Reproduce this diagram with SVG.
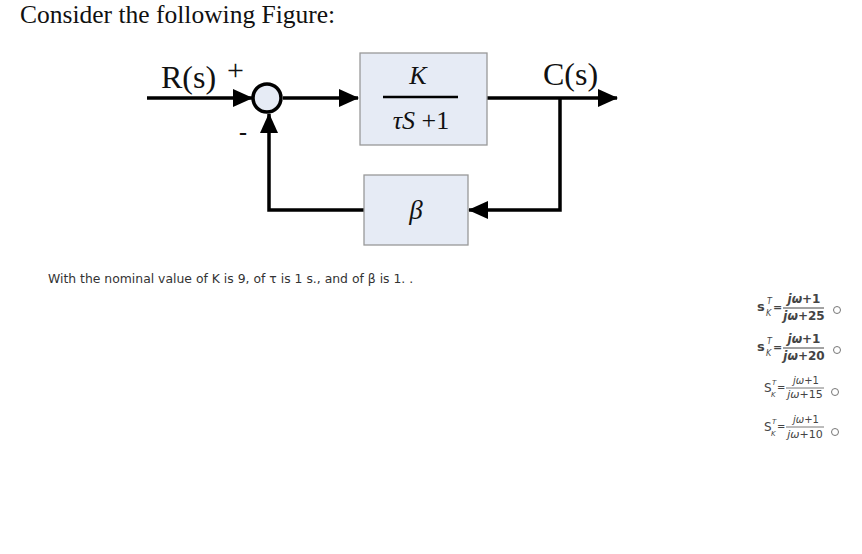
<svg xmlns="http://www.w3.org/2000/svg" width="862" height="554" viewBox="0 0 862 554">
<style>
.serif{font-family:"Liberation Serif","Times New Roman",serif;fill:#111}
.ital{font-family:"Liberation Serif","Times New Roman",serif;font-style:italic;fill:#111}
.wire{fill:none;stroke:#000;stroke-width:3.5}
.blk{fill:#e6ebf5;stroke:#999;stroke-width:1.3}
.sans{font-family:"DejaVu Sans","Noto Sans",sans-serif;fill:#333}
.opt{font-family:"DejaVu Sans","Noto Sans",sans-serif;fill:#444}
.radio{fill:#fff;stroke:#777;stroke-width:1}
</style>
<defs>
<marker id="arr" markerUnits="userSpaceOnUse" markerWidth="20" markerHeight="20" refX="19" refY="9" orient="auto" viewBox="0 0 20 18">
<path d="M0,0 L20,9 L0,18 z" fill="#000"/>
</marker>
</defs>
<rect width="862" height="554" fill="#fff"/>
<text class="serif" x="20" y="23" font-size="25.5">Consider the following Figure:</text>

<g id="connectors">
<path class="wire" d="M147,98 L252,98" marker-end="url(#arr)"/>
<path class="wire" d="M283,98 L358,98" marker-end="url(#arr)"/>
<path class="wire" d="M487,98 L617,98" marker-end="url(#arr)"/>
<path class="wire" d="M560,98 L560,210 L469,210" marker-end="url(#arr)"/>
<path class="wire" d="M364,210 L269,210 L269,114" marker-end="url(#arr)"/>
</g>

<g id="input">
<text class="serif" x="161" y="88" font-size="32">R(s)</text>
<text class="serif" x="227" y="80" font-size="30">+</text>
</g>

<g id="sum">
<circle cx="267" cy="98" r="14" fill="#e6ebf5" stroke="#000" stroke-width="3.5"/>
<text class="serif" x="239" y="140" font-size="24" font-weight="bold">-</text>
</g>

<g id="plant">
<rect class="blk" x="360" y="53" width="127" height="92"/>
<text class="ital" x="418" y="84" font-size="26" text-anchor="middle">K</text>
<line x1="383" y1="97" x2="458" y2="97" stroke="#000" stroke-width="2.5"/>
<text class="serif" x="421" y="129" font-size="26" text-anchor="middle"><tspan font-style="italic">τS</tspan>  +1</text>
</g>

<g id="feedback">
<rect class="blk" x="364" y="175" width="104" height="70"/>
<text class="ital" x="416" y="219" font-size="27" text-anchor="middle">β</text>
</g>

<g id="output">
<text class="serif" x="543" y="85" font-size="32">C(s)</text>
</g>

<text class="sans" x="48" y="283" font-size="12.4">With the nominal value of K is 9, of τ is 1 s., and of β is 1. .</text>

<g id="opt1">
<text class="opt" x="757" y="311" font-size="13" font-weight="bold">s</text>
<text class="opt" x="767" y="304" font-size="8" font-style="italic">T</text>
<text class="opt" x="766" y="316" font-size="8" font-style="italic">K</text>
<text class="opt" x="773" y="311" font-size="11" font-weight="bold">=</text>
<text class="opt" x="804" y="303" font-size="12" font-weight="bold" text-anchor="middle"><tspan font-style="italic">jω</tspan>+1</text>
<line x1="783" y1="308" x2="824" y2="308" stroke="#444" stroke-width="1"/>
<text class="opt" x="804" y="320" font-size="12" font-weight="bold" text-anchor="middle"><tspan font-style="italic">jω</tspan>+25</text>
<circle class="radio" cx="837" cy="310" r="3.5"/>
</g>

<g id="opt2">
<text class="opt" x="757" y="351" font-size="13" font-weight="bold">s</text>
<text class="opt" x="767" y="344" font-size="8" font-style="italic">T</text>
<text class="opt" x="766" y="356" font-size="8" font-style="italic">K</text>
<text class="opt" x="773" y="351" font-size="11" font-weight="bold">=</text>
<text class="opt" x="804" y="343" font-size="12" font-weight="bold" text-anchor="middle"><tspan font-style="italic">jω</tspan>+1</text>
<line x1="783" y1="348" x2="824" y2="348" stroke="#444" stroke-width="1"/>
<text class="opt" x="804" y="360" font-size="12" font-weight="bold" text-anchor="middle"><tspan font-style="italic">jω</tspan>+20</text>
<circle class="radio" cx="837" cy="350" r="3.5"/>
</g>

<g id="opt3">
<text class="opt" x="764" y="392" font-size="12">S</text>
<text class="opt" x="772" y="385" font-size="7" font-style="italic">T</text>
<text class="opt" x="771" y="397" font-size="7" font-style="italic">K</text>
<text class="opt" x="777" y="391" font-size="10">=</text>
<text class="opt" x="806" y="384" font-size="10" text-anchor="middle"><tspan font-style="italic">jω</tspan>+1</text>
<line x1="786" y1="388" x2="824" y2="388" stroke="#555" stroke-width="0.8"/>
<text class="opt" x="805" y="398" font-size="11" text-anchor="middle"><tspan font-style="italic">jω</tspan>+15</text>
<circle class="radio" cx="835" cy="392" r="3.5"/>
</g>

<g id="opt4">
<text class="opt" x="764" y="431" font-size="12">S</text>
<text class="opt" x="772" y="424" font-size="7" font-style="italic">T</text>
<text class="opt" x="771" y="436" font-size="7" font-style="italic">K</text>
<text class="opt" x="777" y="430" font-size="10">=</text>
<text class="opt" x="806" y="423" font-size="10" text-anchor="middle"><tspan font-style="italic">jω</tspan>+1</text>
<line x1="786" y1="427" x2="824" y2="427" stroke="#555" stroke-width="0.8"/>
<text class="opt" x="805" y="438" font-size="11" text-anchor="middle"><tspan font-style="italic">jω</tspan>+10</text>
<circle class="radio" cx="835" cy="432" r="3.5"/>
</g>
</svg>
